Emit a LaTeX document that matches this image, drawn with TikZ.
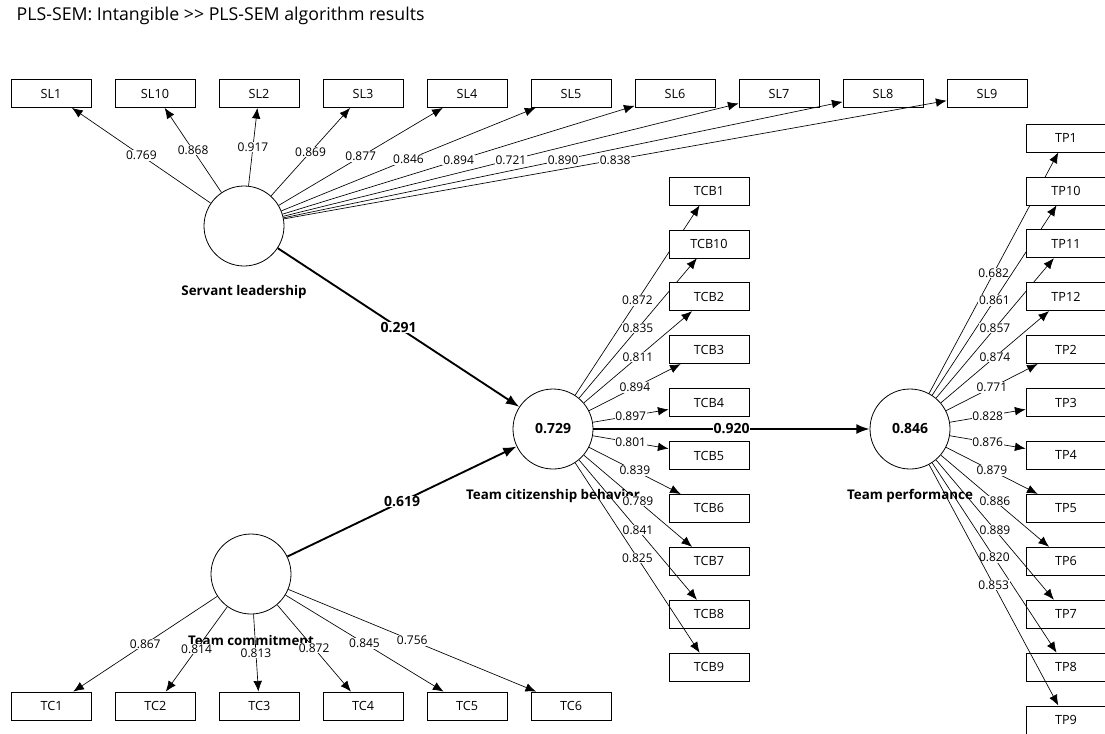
\documentclass[tikz,border=0pt]{standalone}
\usepackage{fontspec}
\setmainfont{Open Sans}
\usetikzlibrary{arrows.meta}

\begin{document}
\begin{tikzpicture}[x=0.75pt,y=-0.75pt,
  ind/.style={draw,fill=white,line width=0.6pt,minimum width=60pt,minimum height=21pt,inner sep=0pt,font=\fontsize{9.5}{11}\selectfont},
  lat/.style={draw,circle,fill=white,line width=0.6pt,minimum size=60pt,inner sep=0pt,font=\bfseries\fontsize{10.5}{12}\selectfont},
  latlab/.style={font=\bfseries\fontsize{10}{12}\selectfont},
  load/.style={-{Latex[length=8pt,width=6.5pt]},line width=0.5pt},
  struct/.style={-{Latex[length=10pt,width=7.5pt]},line width=1.4pt},
  val/.style={fill=white,inner sep=0.6pt,font=\fontsize{9}{10}\selectfont},
  pval/.style={fill=white,inner sep=0.6pt,font=\bfseries\fontsize{10.5}{12}\selectfont}]

  \useasboundingbox (0,0) rectangle (1105,733);

  % Draw title
  \node[anchor=west,font=\fontsize{13.3}{15}\selectfont] (title) at (12,16) {PLS-SEM: Intangible >{}> PLS-SEM algorithm results};

  % Draw latent names
  \node[latlab] (SLlab) at (244,292) {Servant leadership};
  \node[latlab] (TCBlab) at (553,496) {Team citizenship behavior};
  \node[latlab] (TPlab) at (910,496) {Team performance};
  \node[latlab] (TClab) at (251,640) {Team commitment};

  % Draw latent variables
  \node[lat] (SL) at (244,226) {};
  \node[lat] (TCB) at (553,429) {0.729};
  \node[lat] (TP) at (910,429) {0.846};
  \node[lat] (TC) at (251,574) {};

  % Draw servant leadership items
  \foreach \n/\v [count=\i from 0] in {SL1/0.769,SL10/0.868,SL2/0.917,SL3/0.869,SL4/0.877,SL5/0.846,SL6/0.894,SL7/0.721,SL8/0.890,SL9/0.838} {
    \node[ind] (\n) at ({51+104*\i},93.5) {\n};
    \draw[load] (SL) -- (\n) node[val,midway] {\v};
  }

  % Draw team citizenship behavior items
  \foreach \n/\v [count=\i from 0] in {TCB1/0.872,TCB10/0.835,TCB2/0.811,TCB3/0.894,TCB4/0.897,TCB5/0.801,TCB6/0.839,TCB7/0.789,TCB8/0.841,TCB9/0.825} {
    \node[ind] (\n) at (709,{191+52.9*\i}) {\n};
    \draw[load] (TCB) -- (\n) node[val,midway] {\v};
  }

  % Draw team performance items
  \foreach \n/\v [count=\i from 0] in {TP1/0.682,TP10/0.861,TP11/0.857,TP12/0.874,TP2/0.771,TP3/0.828,TP4/0.876,TP5/0.879,TP6/0.886,TP7/0.889,TP8/0.820,TP9/0.853} {
    \node[ind] (\n) at (1066,{138+52.9*\i}) {\n};
    \draw[load] (TP) -- (\n) node[val,midway] {\v};
  }

  % Draw team commitment items
  \foreach \n/\v [count=\i from 0] in {TC1/0.867,TC2/0.814,TC3/0.813,TC4/0.872,TC5/0.845,TC6/0.756} {
    \node[ind] (\n) at ({51.5+103.9*\i},706) {\n};
    \draw[load] (TC) -- (\n) node[val,midway] {\v};
  }

  % Draw paths
  \draw[struct] (SL) -- (TCB) node[pval,midway] {0.291};
  \draw[struct] (TC) -- (TCB) node[pval,midway] {0.619};
  \draw[struct] (TCB) -- (TP) node[pval,midway] {0.920};

\end{tikzpicture}
\end{document}
